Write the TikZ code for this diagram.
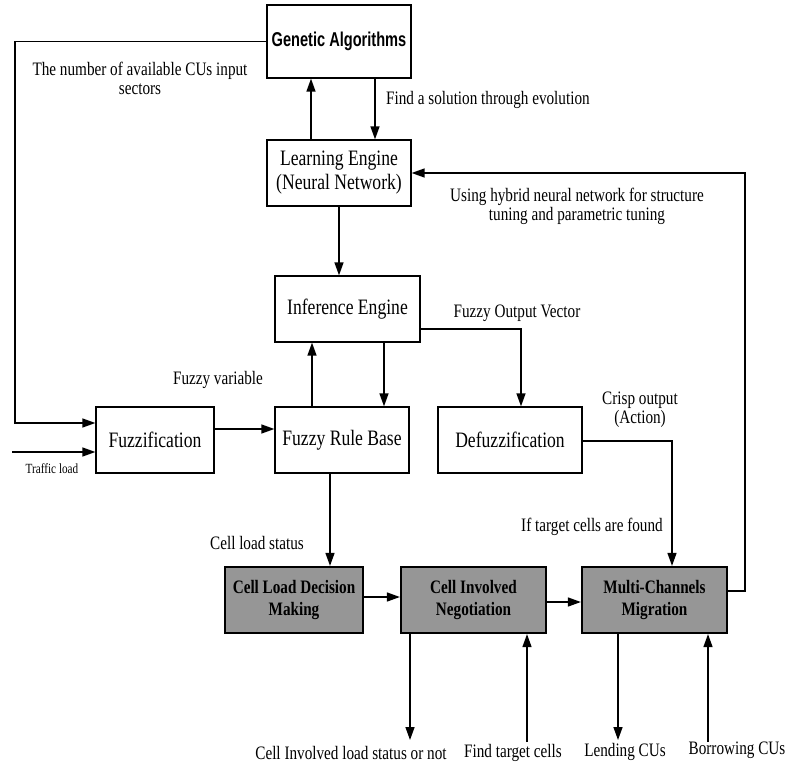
\documentclass[tikz,border=0pt]{standalone}
\usepackage{fontspec}
\setmainfont{Liberation Serif}[FakeStretch=0.8]
\newfontfamily\gafont{Liberation Sans}[FakeStretch=0.73]
\usetikzlibrary{arrows.meta}
\definecolor{boxgray}{RGB}{150,150,150}
\begin{document}
\begin{tikzpicture}[x=1pt,y=-1pt,
 box/.style={draw, line width=1.3pt, inner sep=0pt, align=center, font=\fontsize{22}{24}\selectfont},
 gbox/.style={draw, fill=boxgray, line width=2.2pt, inner sep=0pt, align=center, minimum width=145pt, minimum height=66pt, font=\bfseries\fontsize{19}{22}\selectfont},
 lbl/.style={inner sep=0pt, align=center, font=\fontsize{19}{19}\selectfont},
 arr/.style={line width=1.4pt, -{Triangle[length=13pt,width=9pt]}},
 ln/.style={line width=1.4pt}]
\useasboundingbox (0,0) rectangle (786,767);

% boxes
\node[box, minimum width=144pt, minimum height=73pt, font=\gafont\bfseries\fontsize{20}{22}\selectfont] (ga) at (339,41.5) {Genetic Algorithms};
\node[box, minimum width=144pt, minimum height=66pt] (le) at (339,173) {Learning Engine\\(Neural Network)};
\node[box, minimum width=145pt, minimum height=66pt] (ie) at (347.5,309) {Inference Engine};
\node[box, minimum width=118pt, minimum height=66pt] (fz) at (155,440) {Fuzzification};
\node[box, minimum width=134pt, minimum height=66pt] (frb) at (342,440) {Fuzzy Rule Base};
\node[box, minimum width=144pt, minimum height=66pt] (dfz) at (510,440) {Defuzzification};
\node[gbox, minimum width=138pt] (cldm) at (294,600) {Cell Load Decision\\Making};
\node[gbox] (cin) at (473.5,600) {Cell Involved\\Negotiation};
\node[gbox] (mcm) at (654.5,600) {Multi-Channels\\Migration};

% helper coordinates
\coordinate (lft) at (15,41.5);
\coordinate (tl) at (12,452);
\coordinate (fb) at (745,173);
\coordinate (p1) at ([xshift=-28pt]le.north);
\coordinate (p2) at ([xshift=36pt]ga.south);
\coordinate (p3) at ([xshift=-30pt]frb.north);
\coordinate (p4) at ([xshift=36.5pt]ie.south);
\coordinate (p5) at ([yshift=11pt]fz.east);
\coordinate (p6) at ([xshift=-12pt]frb.south);
\coordinate (p7) at ([yshift=3pt]cldm.east);
\coordinate (p8) at ([yshift=-2pt]cin.east);
\coordinate (b1) at (410,740);
\coordinate (b2) at (527,742);
\coordinate (b3) at (618,740);
\coordinate (b4) at (708,742);

% connectors
\draw[arr] (ga.west) -- (lft) |- ([yshift=17pt]fz.west);
\draw[arr] (tl) -- ([yshift=-12pt]fz.west);
\draw[arr] (p1) -- (p1 |- ga.south);
\draw[arr] (p2) -- (p2 |- le.north);
\draw[arr] (le.south) -- (le.south |- ie.north);
\draw[arr] ([yshift=-20pt]ie.east) -| ([xshift=11pt]dfz.north);
\draw[arr] (p3) -- (p3 |- ie.south);
\draw[arr] (p4) -- (p4 |- frb.north);
\draw[arr] (p5) -- (p5 -| frb.west);
\draw[arr] ([yshift=-1pt]dfz.east) -| ([xshift=17.5pt]mcm.north);
\draw[arr] ([yshift=9pt]mcm.east) -| (fb) -- (le.east);
\draw[arr] (p6) -- (p6 |- cldm.north);
\draw[arr] (p7) -- (p7 -| cin.west);
\draw[arr] (p8) -- (p8 -| mcm.west);
\draw[arr] (cin.south -| b1) -- (b1);
\draw[arr] (b2) -- (b2 |- cin.south);
\draw[arr] (mcm.south -| b3) -- (b3);
\draw[arr] (b4) -- (b4 |- mcm.south);

% labels
\node[lbl] (l1) at (140,78) {The number of available CUs input\\sectors};
\node[lbl, anchor=west] (l2) at (386,100) {Find a solution through evolution};
\node[lbl] (l3) at (577,206) {Using hybrid neural network for structure\\tuning and parametric tuning};
\node[lbl] (l4) at (517,313) {Fuzzy Output Vector};
\node[lbl] (l5) at (218,380) {Fuzzy variable};
\node[lbl] (l6) at (640,410) {Crisp output\\(Action)};
\node[inner sep=0pt, font=\fontsize{14}{14}\selectfont] (l7) at (52,469) {Traffic load};
\node[lbl] (l8) at (257,543) {Cell load status};
\node[lbl] (l9) at (592,527) {If target cells are found};
\node[lbl] (l10) at (351,753) {Cell Involved load status or not};
\node[lbl] (l11) at (513,753) {Find target cells};
\node[lbl] (l12) at (625,752) {Lending CUs};
\node[lbl] (l13) at (737,750) {Borrowing CUs};
\end{tikzpicture}
\end{document}
